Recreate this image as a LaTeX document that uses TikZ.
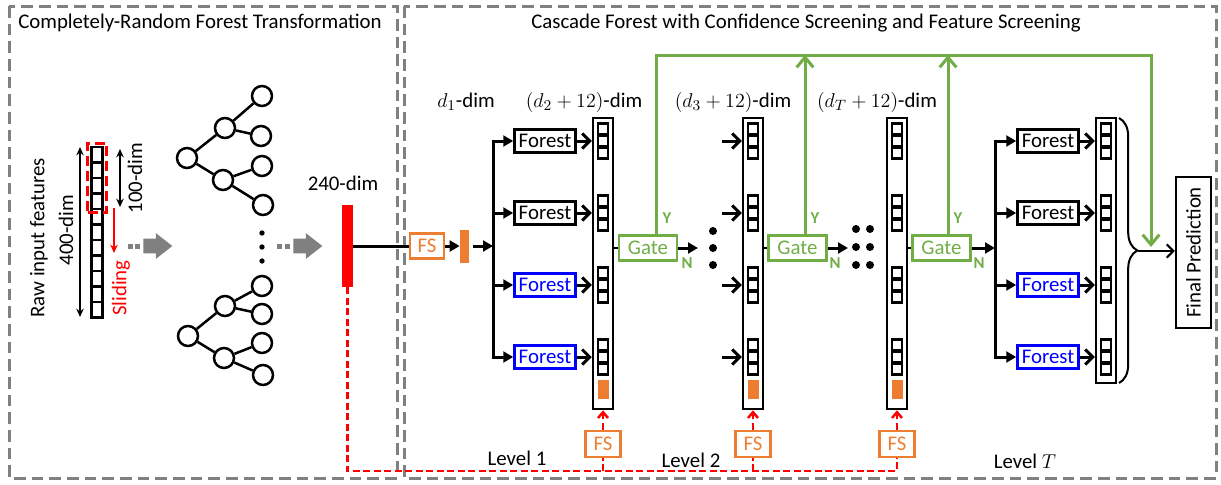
\documentclass[tikz,border=0pt]{standalone}
\usepackage{fontspec}
\setmainfont{Carlito}
\usepackage{tikz}
\usetikzlibrary{arrows.meta,positioning,shapes.arrows,decorations.pathreplacing}
\definecolor{gcgreen}{RGB}{112,173,71}
\definecolor{gcorange}{RGB}{237,125,49}
\definecolor{gcgray}{RGB}{128,128,128}
\tikzstyle{boxframe}=[draw=gcgray,line width=1.8pt,dash pattern=on 7pt off 3.6pt]
\tikzstyle{forest}=[draw=black,line width=1.5pt,minimum width=36.6pt,minimum height=13.8pt,inner sep=0pt]
\tikzstyle{bforest}=[forest,draw=blue,text=blue]
\tikzstyle{vec}=[draw=black,line width=1.5pt,minimum width=12pt,inner sep=0pt]
\tikzstyle{cell}=[draw=black,line width=1.3pt]
\tikzstyle{ocell}=[fill=gcorange,minimum width=6.6pt,minimum height=11.4pt,inner sep=0pt]
\tikzstyle{gate}=[draw=gcgreen,text=gcgreen,line width=1.5pt,minimum width=34.8pt,minimum height=15pt,inner sep=0pt]
\tikzstyle{fsbox}=[draw=gcorange,text=gcorange,line width=1.5pt,minimum width=20.4pt,minimum height=15pt,inner sep=0pt]
\tikzstyle{yn}=[text=gcgreen,font=\bfseries\fontsize{10}{12}\selectfont,inner sep=0pt]
\tikzstyle{tnode}=[draw=black,circle,line width=1.5pt,minimum size=12pt,inner sep=0pt]
\tikzstyle{sdot}=[circle,fill=black,minimum size=3.2pt,inner sep=0pt]
\tikzstyle{bdot}=[circle,fill=black,minimum size=4.8pt,inner sep=0pt]
\tikzstyle{feed}=[line width=1.8pt,-{Triangle[length=6pt,width=6.5pt]}]
\tikzstyle{into}=[line width=1.8pt,-{Straight Barb[length=4.5pt,width=9pt,line width=1.8pt]}]
\tikzstyle{dimarr}=[line width=1.2pt,{Stealth[length=5pt,width=4.5pt]}-{Stealth[length=5pt,width=4.5pt]}]
\tikzstyle{gline}=[draw=gcgreen,line width=1.8pt]
\tikzstyle{gbarb}=[-{Straight Barb[length=6pt,width=10pt,line width=1.8pt]}]
\tikzstyle{rdash}=[draw=red,line width=1.5pt,dash pattern=on 4.2pt off 2.1pt]
\tikzstyle{rbarb}=[-{Straight Barb[length=3.5pt,width=6pt,line width=1.5pt]}]
\tikzstyle{garrow}=[single arrow,fill=gcgray,inner sep=4.2pt,single arrow head extend=3.3pt,single arrow tip angle=76,minimum height=17.4pt,anchor=tail]
\tikzstyle{gdash}=[fill=gcgray,minimum width=3pt,minimum height=3pt,inner sep=0pt]

\begin{document}
\begin{tikzpicture}[x=0.6pt,y=-0.6pt,font=\fontsize{12.5}{14}\selectfont]
\useasboundingbox (0,0) rectangle (1221,484);
% frames and titles
\draw[boxframe] (9,6) rectangle (397,478);
\draw[boxframe] (404,6) rectangle (1216,478);
\node (ttl1) at (200,23) {Completely-Random Forest Transformation};
\node (ttl2) at (806,23) {Cascade Forest with Confidence Screening and Feature Screening};
% raw input features
\draw[cell] (91.5,147) rectangle (102.5,317.5)
  (91.5,162.5) -- (102.5,162.5) (91.5,178) -- (102.5,178) (91.5,193.5) -- (102.5,193.5)
  (91.5,209) -- (102.5,209) (91.5,224.5) -- (102.5,224.5) (91.5,240) -- (102.5,240)
  (91.5,255.5) -- (102.5,255.5) (91.5,271) -- (102.5,271) (91.5,286.5) -- (102.5,286.5)
  (91.5,302) -- (102.5,302);
\node[draw=red,line width=1.8pt,dash pattern=on 6pt off 3pt,minimum width=11.4pt,minimum height=41.4pt,inner sep=0pt] (win) at (97,177.5) {};
\node[rotate=90] (rawlbl) at (39,238) {Raw input features};
\node[rotate=90] (lbl400) at (66,230) {400-dim};
\node[rotate=90] (lbl100) at (135,178) {100-dim};
\node[rotate=90,text=red] (lblsl) at (121,288) {Sliding};
\coordinate (a4t) at (80,147);
\coordinate (a4b) at (80,317);
\coordinate (a1t) at (120,149);
\coordinate (a1b) at (120,207);
\coordinate (slt) at (114,208);
\coordinate (slb) at (114,253);
\draw[dimarr] (a4t) -- (a4b);
\draw[dimarr] (a1t) -- (a1b);
\draw[red,line width=1.5pt,-{Stealth[length=5pt,width=4.5pt]}] (slt) -- (slb);
% gray arrows
\node[gdash] (gd1) at (130.5,246) {};
\node[gdash] (gd2) at (137.5,246) {};
\node[garrow] (ga1) at (143,246) {};
\node[gdash] (gd3) at (279.5,246) {};
\node[gdash] (gd4) at (287.5,246) {};
\node[garrow] (ga2) at (293,246) {};
% trees
\node[tnode] (ar) at (187,158) {};
\node[tnode] (am1) at (225,128) {};
\node[tnode] (am2) at (223,180) {};
\node[tnode] (al1) at (262,96) {};
\node[tnode] (al2) at (261,136) {};
\node[tnode] (al3) at (262,166) {};
\node[tnode] (al4) at (263,205) {};
\node[tnode] (br) at (188,336) {};
\node[tnode] (bm1) at (225,306) {};
\node[tnode] (bm2) at (224,358) {};
\node[tnode] (bl1) at (262,286) {};
\node[tnode] (bl2) at (262,314) {};
\node[tnode] (bl3) at (262,343) {};
\node[tnode] (bl4) at (263,375) {};
\draw[line width=1.5pt] (ar) -- (am1);
\draw[line width=1.5pt] (ar) -- (am2);
\draw[line width=1.5pt] (am1) -- (al1);
\draw[line width=1.5pt] (am1) -- (al2);
\draw[line width=1.5pt] (am2) -- (al3);
\draw[line width=1.5pt] (am2) -- (al4);
\draw[line width=1.5pt] (br) -- (bm1);
\draw[line width=1.5pt] (br) -- (bm2);
\draw[line width=1.5pt] (bm1) -- (bl1);
\draw[line width=1.5pt] (bm1) -- (bl2);
\draw[line width=1.5pt] (bm2) -- (bl3);
\draw[line width=1.5pt] (bm2) -- (bl4);
\node[sdot] (td1) at (262,233) {};
\node[sdot] (td2) at (262,247) {};
\node[sdot] (td3) at (262,261) {};
% 240-dim vector and level 1 input
\node (lbl240) at (343,183) {240-dim};
\node[fill=red,minimum width=6.6pt,minimum height=49.2pt,inner sep=0pt] (red240) at (347.5,246) {};
\node[fsbox] (fs1) at (427,246) {FS};
\node[fill=gcorange,minimum width=5.4pt,minimum height=19.8pt,inner sep=0pt] (d1bar) at (464.5,246) {};
\coordinate (j1) at (493,246);
\draw[line width=1.8pt] (red240) -- (fs1);
\draw[feed] (fs1) -- (d1bar);
\draw[feed,shorten <=2.4pt] (d1bar) -- (j1);
\node (dim1) at (466,102) {$d_1$-dim};
\node (dim2) at (584,102) {$(d_2+12)$-dim};
\node (dim3) at (733,102) {$(d_3+12)$-dim};
\node (dimT) at (877,102) {$(d_T+12)$-dim};
% level 1 forests
\node[forest] (f11) at (545,141) {Forest};
\node[forest] (f12) at (545,213) {Forest};
\node[bforest] (f13) at (545,285) {Forest};
\node[bforest] (f14) at (545,357) {Forest};
\draw[feed] (j1) |- (f11.west);
\draw[feed] (j1) |- (f12.west);
\draw[feed] (j1) |- (f13.west);
\draw[feed] (j1) |- (f14.west);
% class vectors
\node[vec,minimum height=174.6pt] (v1) at (603,263.5) {};
\node[vec,minimum height=174.6pt] (v2) at (753,263.5) {};
\node[vec,minimum height=174.6pt] (v3) at (897,263.5) {};
\node[vec,minimum height=159pt] (vT) at (1106,250.5) {};
\draw[cell] (598,123.5) rectangle ++(10,11) (598,135.5) rectangle ++(10,11) (598,147.5) rectangle ++(10,11);
\draw[cell] (598,195.5) rectangle ++(10,11) (598,207.5) rectangle ++(10,11) (598,219.5) rectangle ++(10,11);
\draw[cell] (598,267.5) rectangle ++(10,11) (598,279.5) rectangle ++(10,11) (598,291.5) rectangle ++(10,11);
\draw[cell] (598,339.5) rectangle ++(10,11) (598,351.5) rectangle ++(10,11) (598,363.5) rectangle ++(10,11);
\draw[cell] (748,123.5) rectangle ++(10,11) (748,135.5) rectangle ++(10,11) (748,147.5) rectangle ++(10,11);
\draw[cell] (748,195.5) rectangle ++(10,11) (748,207.5) rectangle ++(10,11) (748,219.5) rectangle ++(10,11);
\draw[cell] (748,267.5) rectangle ++(10,11) (748,279.5) rectangle ++(10,11) (748,291.5) rectangle ++(10,11);
\draw[cell] (748,339.5) rectangle ++(10,11) (748,351.5) rectangle ++(10,11) (748,363.5) rectangle ++(10,11);
\draw[cell] (892,123.5) rectangle ++(10,11) (892,135.5) rectangle ++(10,11) (892,147.5) rectangle ++(10,11);
\draw[cell] (892,195.5) rectangle ++(10,11) (892,207.5) rectangle ++(10,11) (892,219.5) rectangle ++(10,11);
\draw[cell] (892,267.5) rectangle ++(10,11) (892,279.5) rectangle ++(10,11) (892,291.5) rectangle ++(10,11);
\draw[cell] (892,339.5) rectangle ++(10,11) (892,351.5) rectangle ++(10,11) (892,363.5) rectangle ++(10,11);
\draw[cell] (1101,123.5) rectangle ++(10,11) (1101,135.5) rectangle ++(10,11) (1101,147.5) rectangle ++(10,11);
\draw[cell] (1101,195.5) rectangle ++(10,11) (1101,207.5) rectangle ++(10,11) (1101,219.5) rectangle ++(10,11);
\draw[cell] (1101,267.5) rectangle ++(10,11) (1101,279.5) rectangle ++(10,11) (1101,291.5) rectangle ++(10,11);
\draw[cell] (1101,339.5) rectangle ++(10,11) (1101,351.5) rectangle ++(10,11) (1101,363.5) rectangle ++(10,11);
\node[ocell] (o1) at (603,389.5) {};
\node[ocell] (o2) at (753,389.5) {};
\node[ocell] (o3) at (897,389.5) {};
\draw[into] (f11) -- (f11 -| v1.west);
\draw[into] (f12) -- (f12 -| v1.west);
\draw[into] (f13) -- (f13 -| v1.west);
\draw[into] (f14) -- (f14 -| v1.west);
% level 2 stubs
\coordinate (s21) at (722,141);
\coordinate (s22) at (722,213);
\coordinate (s23) at (722,285);
\coordinate (s24) at (722,357);
\draw[into] (s21) -- (s21 -| v2.west);
\draw[into] (s22) -- (s22 -| v2.west);
\draw[into] (s23) -- (s23 -| v2.west);
\draw[into] (s24) -- (s24 -| v2.west);
% gates
\node[gate] (g1) at (648,248) {Gate};
\node[gate] (g2) at (797.5,248) {Gate};
\node[gate] (g3) at (941.5,248) {Gate};
\draw[line width=1.5pt] (g1.west -| v1.east) -- (g1.west);
\draw[line width=1.5pt] (g2.west -| v2.east) -- (g2.west);
\draw[line width=1.5pt] (g3.west -| v3.east) -- (g3.west);
\coordinate (n1) at (698,248);
\coordinate (n2) at (848,248);
\coordinate (jT) at (995,248);
\draw[feed] (g1) -- (n1);
\draw[feed] (g2) -- (n2);
\draw[feed] (g3) -- (jT);
\node[yn] (ny1) at (687,263) {N};
\node[yn] (ny2) at (835,263) {N};
\node[yn] (ny3) at (979,263) {N};
\node[yn] (yy1) at (667,218) {Y};
\node[yn] (yy2) at (815,218) {Y};
\node[yn] (yy3) at (958,218) {Y};
\node[bdot] (d21) at (713,231) {};
\node[bdot] (d22) at (713,248) {};
\node[bdot] (d23) at (713,265) {};
\node[bdot] (d31) at (856,229) {};
\node[bdot] (d32) at (856,247) {};
\node[bdot] (d33) at (856,265) {};
\node[bdot] (d34) at (870,229) {};
\node[bdot] (d35) at (870,247) {};
\node[bdot] (d36) at (870,265) {};
% confidence screening path
\coordinate (y1) at (656,55);
\coordinate (y2) at (805,55);
\coordinate (y3) at (948,55);
\coordinate (tr) at (1151,55);
\coordinate (gt) at (1151,247);
\draw[gline,gbarb] (y1 |- g1.north) -- (y1) -- (tr) -- (gt);
\draw[gline,gbarb] (y2 |- g2.north) -- (y2);
\draw[gline,gbarb] (y3 |- g3.north) -- (y3);
% level T forests
\node[forest] (fT1) at (1048,141) {Forest};
\node[forest] (fT2) at (1048,213) {Forest};
\node[bforest] (fT3) at (1048,285) {Forest};
\node[bforest] (fT4) at (1048,357) {Forest};
\draw[feed] (jT) |- (fT1.west);
\draw[feed] (jT) |- (fT2.west);
\draw[feed] (jT) |- (fT3.west);
\draw[feed] (jT) |- (fT4.west);
\draw[into] (fT1) -- (fT1 -| vT.west);
\draw[into] (fT2) -- (fT2 -| vT.west);
\draw[into] (fT3) -- (fT3 -| vT.west);
\draw[into] (fT4) -- (fT4 -| vT.west);
% final prediction
\coordinate (brt) at (1119,118);
\coordinate (brb) at (1119,383);
\coordinate (bt) at (1138,251);
\draw[line width=1.2pt,decorate,decoration={brace,amplitude=11pt}] (brt) -- (brb);
\node[draw=black,line width=1.5pt,minimum width=21pt,minimum height=90.6pt,inner sep=0pt] (fp) at (1193.5,252.5) {\rotatebox{90}{Final Prediction}};
\draw[line width=1.2pt,-{Straight Barb[length=4pt,width=8pt,line width=1.2pt]}] (bt) -- (bt -| fp.west);
% feature screening path
\node[fsbox,minimum width=21pt,minimum height=15.6pt] (fsb1) at (603,444) {FS};
\node[fsbox,minimum width=21pt,minimum height=15.6pt] (fsb2) at (753,444) {FS};
\node[fsbox,minimum width=21pt,minimum height=15.6pt] (fsb3) at (897,444) {FS};
\coordinate (rc) at (897,471);
\draw[rdash] (red240) |- (rc) -- (fsb3);
\draw[rdash] (fsb1.south |- rc) -- (fsb1);
\draw[rdash] (fsb2.south |- rc) -- (fsb2);
\draw[rdash,rbarb] (fsb1) -- (v1);
\draw[rdash,rbarb] (fsb2) -- (v2);
\draw[rdash,rbarb] (fsb3) -- (v3);
\node (lv1) at (517,458) {Level 1};
\node (lv2) at (691,460) {Level 2};
\node (lvT) at (1025,461) {Level $T$};
\end{tikzpicture}
\end{document}
